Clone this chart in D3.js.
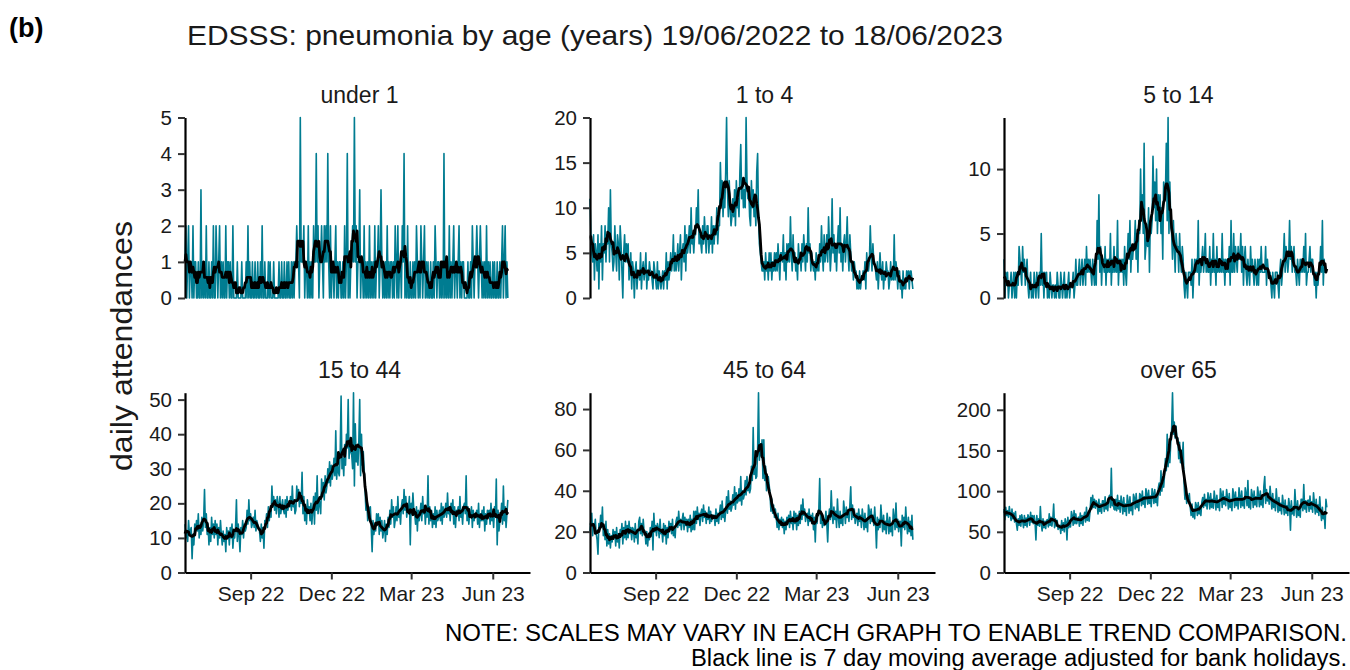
<!DOCTYPE html>
<html><head><meta charset="utf-8">
<script src="https://cdn.jsdelivr.net/npm/d3@7"></script>
<style>
body{margin:0;background:#fff;}
text{font-family:"Liberation Sans",Arial,Helvetica,sans-serif;}
</style>
</head><body>
<svg id="chart" width="1350" height="670"></svg>
<script>
// ---- data: daily attendances from 19/06/2022 (365 days) ----
const startDate = "2022-06-19";
const panelTitles = ["under 1","1 to 4","5 to 14","15 to 44","45 to 64","over 65"];

const under1 = [
1,2,0,1,2,0,1, 1,0,2,0,1,1,0, 0,1,0,0,3,0,1, 0,1,0,2,0,0,1, 0,0,1,0,2,0,0, 2,1,0,1,2,0,1, 0,1,0,0,2,0,1,
1,0,1,0,0,2,0, 0,0,0,1,0,0,0, 0,1,0,0,0,0,1, 0,2,0,1,0,0,1, 0,0,1,0,0,1,0, 0,1,0,2,0,0,1, 0,0,0,1,0,1,0,
0,0,1,0,0,0,0, 0,1,0,0,1,0,0, 1,0,0,1,0,1,0, 0,1,0,1,0,1,1, 2,1,1,0,5,1,1, 1,2,0,1,1,0,2, 0,1,0,1,0,2,1,
1,4,1,2,0,1,1, 2,1,0,2,1,2,1, 4,1,0,2,0,1,1, 0,1,2,0,1,0,1, 1,0,0,1,0,2,0, 1,4,0,1,0,1,1, 2,1,5,1,2,0,1,
1,3,0,1,1,0,2, 0,1,0,1,0,2,0, 1,0,1,0,2,0,1, 1,2,0,1,3,1,0, 1,0,1,0,2,0,1, 0,1,1,0,1,0,2, 1,0,2,0,1,1,0,
2,1,4,0,1,0,2, 0,0,1,0,0,1,0, 1,0,2,1,0,1,0, 2,1,0,1,2,0,1, 0,1,0,0,1,0,0, 1,0,2,1,0,1,1, 0,1,0,1,0,4,0,
1,0,1,0,2,0,1, 0,1,2,0,1,1,0, 1,2,0,1,0,1,1, 0,0,0,0,1,0,0, 1,0,2,1,0,1,1, 2,1,0,1,2,1,0, 1,0,1,0,2,0,1,
0,1,0,0,1,0,1, 0,0,1,0,0,1,0, 1,2,0,1,2,0,1, 0];

const age1to4 = [
11,7,5,4,7,2,6, 5,3,7,1,6,4,8, 2,6,5,8,4,7,6, 10,4,12,6,5,3,4, 8,5,3,7,6,2,8, 6,3,0,5,7,4,6, 4,6,2,3,5,1,4,
3,0,3,4,1,3,3, 2,5,1,3,4,2,3, 5,1,3,2,4,3,3, 2,1,4,3,2,1,4, 1,3,2,1,2,3,1, 3,2,5,1,4,2,3, 5,3,4,7,3,5,3,
4,6,3,5,7,2,5, 6,4,8,3,7,5,6, 8,5,10,6,7,5,7, 7,10,8,12,6,7,6, 5,8,6,9,7,5,8, 8,5,7,6,9,5,8, 6,8,7,10,6,8,8,
15,11,13,9,12,10,14, 20,12,9,13,10,8,9, 11,9,12,8,13,10,11, 9,14,17,11,13,10,12, 10,20,13,11,12,9,8, 13,10,12,9,11,8,14, 16,9,6,5,4,3,3,
4,2,5,3,4,2,5, 3,5,2,4,3,5,3, 5,3,6,4,2,5,5, 4,7,3,5,2,6,4, 6,4,9,5,3,7,4, 5,3,4,2,6,4,5, 3,6,4,7,5,3,6,
4,10,5,6,3,5,4, 3,4,2,5,3,4,3, 6,4,8,5,3,7,4, 5,7,4,9,6,3,5, 11,5,7,4,6,3,6, 8,5,10,4,6,3,6, 7,4,6,9,5,3,7,
5,3,4,2,4,3,3, 1,2,1,3,1,2,2, 3,2,4,1,5,3,3, 4,8,5,3,6,4,4, 3,2,4,1,3,5,3, 2,4,1,3,2,4,3, 3,1,2,4,2,3,2,
7,2,4,3,1,3,3, 1,2,0,3,1,2,1, 3,2,3,1,3,3,2, 1];

const age5to14 = [
3,0,2,1,2,0,1, 1,2,0,1,2,0,2, 0,2,1,4,3,2,1, 4,2,3,1,2,3,1, 0,1,2,0,1,0,2, 1,0,2,1,0,2,1, 5,1,2,0,2,1,2,
0,1,0,2,1,0,1, 1,0,1,0,2,1,0, 0,2,1,0,1,2,0, 1,0,1,2,0,1,1, 1,2,0,1,3,1,1, 2,3,1,2,3,1,2, 3,1,4,2,3,2,3,
2,1,3,2,1,3,1, 6,3,8,2,4,1,3, 3,2,4,1,3,2,3, 2,5,1,3,2,4,2, 3,2,6,1,3,2,3, 2,3,1,4,2,1,3, 5,3,6,2,4,3,4,
4,6,3,5,2,6,5, 10,6,8,5,12,3,4, 5,4,7,2,6,5,6, 11,7,9,6,10,5,8, 6,8,5,7,3,9,8, 8,12,6,14,5,9,6, 5,3,6,4,2,5,4,
4,2,5,3,2,4,3, 1,0,2,1,0,2,2, 2,1,3,0,2,3,2, 3,2,6,1,3,2,3, 4,2,3,5,2,3,2, 2,4,1,3,2,5,2, 3,1,4,2,3,2,3,
2,5,2,3,1,3,2, 3,2,4,1,6,2,2, 5,2,4,3,2,4,3, 3,5,2,4,1,3,4, 2,1,3,2,1,4,2, 3,2,1,3,2,1,3, 1,3,2,4,2,2,2,
2,4,1,3,2,2,2, 1,0,2,1,0,2,2, 2,1,0,2,3,1,2, 3,5,2,4,3,2,3, 6,3,4,2,3,4,2, 2,1,3,2,1,3,2, 3,2,4,2,5,1,2,
2,3,4,2,3,3,2, 1,2,0,2,1,2,2, 4,2,6,1,3,2,2, 2];

const age15to44 = [
14,10,12,9,15,11,12, 13,4,11,8,14,12,15, 12,17,10,13,11,16,12, 15,24,13,17,11,14,8, 13,9,16,11,14,10,15, 11,14,8,13,10,15,11, 8,12,9,11,6,13,10,
12,8,13,10,14,7,11, 10,13,21,9,14,11,6, 13,11,15,10,14,12,13, 18,14,21,15,17,13,14, 16,13,18,12,15,14,13, 12,9,14,10,13,7,15, 14,17,13,19,15,18,16,
25,19,22,18,21,17,22, 20,16,22,17,19,21,18, 17,21,16,22,18,20,19, 22,18,25,19,21,17,18, 25,21,24,19,23,20,29, 17,22,15,19,14,21,18, 19,15,20,14,18,22,14,
23,18,28,17,21,20,17, 27,22,26,21,28,23,25, 30,26,32,25,31,27,29, 33,28,41,27,32,29,28, 35,51,30,33,28,37,31, 40,36,50,33,38,35,34, 30,52,25,43,32,36,31,
38,50,28,40,31,35,30, 24,18,21,15,19,17,19, 13,6,15,11,14,12,17, 14,17,11,16,12,15,10, 12,15,9,14,11,16,13, 18,14,21,16,19,13,15, 19,15,22,16,18,14,19,
21,17,24,18,22,16,19, 18,22,8,20,17,23,18, 17,14,19,12,18,15,17, 20,15,22,17,19,14,19, 16,28,14,19,15,18,13, 17,14,19,13,18,15,16, 18,15,20,14,19,16,17,
20,16,23,17,19,15,20, 17,21,14,19,13,18,17, 19,15,22,16,18,14,19, 20,17,28,15,19,14,17, 16,19,13,18,15,17,17, 18,14,20,13,17,15,18, 15,19,12,17,14,18,17,
18,14,20,15,17,13,19, 16,27,8,18,12,15,16, 20,14,25,15,19,13,17, 21];

const age45to64 = [
20,26,29,18,24,22,26, 19,16,9,24,21,28,23, 32,18,22,16,25,13,21, 14,19,12,18,15,21,17, 20,13,22,15,19,12,21, 18,24,14,22,17,25,16, 23,17,25,19,22,16,22,
21,15,24,17,20,14,25, 27,19,24,18,26,20,20, 14,20,13,19,16,22,18, 25,11,29,20,23,18,24, 22,17,26,19,21,15,24, 18,23,14,22,17,25,21, 24,19,26,18,22,17,25,
27,22,30,23,26,21,26, 29,21,27,23,26,20,26, 22,28,20,26,21,30,21, 30,24,32,26,29,23,29, 31,25,33,27,30,24,29, 26,32,24,30,25,28,28, 28,23,31,25,29,24,29,
33,26,35,27,31,25,30, 37,29,40,31,35,30,32, 38,33,42,31,39,34,35, 41,35,47,33,40,36,38, 45,38,47,40,44,39,41, 52,45,71,48,55,46,47, 60,88,55,63,57,65,46,
65,45,52,40,44,47,43, 38,30,36,29,33,27,31, 27,22,29,21,26,23,27, 22,26,19,25,21,27,24, 28,22,30,24,27,21,30, 24,29,21,28,23,30,24, 33,26,36,28,31,25,28,
29,23,31,25,28,24,29, 21,27,15,28,24,29,31, 46,24,29,22,27,23,25, 30,24,15,27,31,26,40, 29,24,32,26,30,22,36, 27,22,30,24,28,23,35, 30,24,32,27,29,25,33,
42,26,33,27,31,24,27, 29,23,31,25,28,22,31, 27,21,29,22,26,20,33, 30,24,31,25,28,23,32, 24,12,27,21,26,22,33, 26,20,28,21,25,19,29, 25,19,27,20,24,18,31,
27,21,34,22,26,20,25, 25,13,28,22,27,21,32, 24,19,27,20,25,18,28, 16];

const over65 = [
78,65,80,70,76,68,81, 72,64,78,66,73,62,75, 60,52,66,58,70,57,71, 64,55,70,58,67,56,71, 68,58,74,62,70,60,70, 62,40,70,58,66,57,81, 60,51,66,55,63,54,64,
65,56,72,58,68,57,65, 84,55,66,57,64,53,55, 58,48,64,52,61,50,66, 62,40,68,55,64,56,75, 70,58,76,60,72,60,66, 68,57,73,60,70,58,69, 74,62,80,64,72,63,75,
92,78,95,80,90,79,88, 85,72,90,75,84,73,88, 88,75,93,78,86,76,92, 95,80,128,82,90,78,77, 90,76,95,78,88,74,94, 86,72,92,75,84,70,95, 87,73,93,76,85,71,96,
92,78,97,80,89,76,97, 95,82,100,84,93,80,103, 96,84,101,85,94,81,103, 97,85,102,86,95,82,104, 110,95,125,100,115,105,120, 140,125,170,130,155,135,160, 175,221,170,185,165,180,164,
165,140,160,135,150,140,160, 110,90,100,85,95,88,97, 80,70,84,68,78,66,86, 82,70,86,72,80,70,86, 92,80,96,82,90,78,98, 92,78,97,80,90,79,100, 90,77,95,80,88,76,103,
96,80,100,84,93,82,102, 92,78,97,80,90,76,103, 95,80,99,82,92,78,104, 94,80,100,82,91,79,104, 97,82,113,80,92,78,102, 95,80,100,83,93,81,105, 95,81,100,83,92,80,106,
118,85,102,88,96,84,106, 92,78,97,80,90,76,103, 87,74,92,76,85,72,95, 84,71,89,73,82,70,91, 82,52,88,72,80,70,102, 82,68,88,70,80,68,90, 90,76,108,78,88,74,88,
89,75,94,78,87,74,98, 85,72,90,74,83,70,93, 76,64,80,66,74,54,90, 80];

const yTickValues = [[0,1,2,3,4,5],[0,5,10,15,20],[0,5,10],[0,10,20,30,40,50],[0,20,40,60,80],[0,50,100,150,200]];
const xTickDates = ["2022-09-01","2022-12-01","2023-03-01","2023-06-01"];
const xTickLabels = ["Sep 22","Dec 22","Mar 23","Jun 23"];
const xDomainEnd = "2023-07-13";

const chartTitle = "EDSSS: pneumonia by age (years) 19/06/2022 to 18/06/2023";
const yAxisLabel = "daily attendances";
const noteLines = ["NOTE: SCALES MAY VARY IN EACH GRAPH TO ENABLE TREND COMPARISON.",
                   "Black line is 7 day moving average adjusted for bank holidays."];
const series = [under1, age1to4, age5to14, age15to44, age45to64, over65];

// ---- drawing ----
const svg = d3.select("#chart");
const parse = d3.utcParse("%Y-%m-%d");
const t0 = parse(startDate);
const teal = "#007C91";

const lefts = [185, 590, 1004];
const panelW = 345;
const rows = [{top:117.5, bottom:298, xaxis:false},{top:392.7, bottom:572.5, xaxis:true}];

function movingAvg(arr){
  return arr.map((v,i)=>{
    const w = arr.slice(Math.max(0,i-3), Math.min(arr.length,i+4));
    return d3.mean(w);
  });
}

series.forEach((vals, p) => {
  const col = p % 3, row = rows[Math.floor(p/3)];
  const left = lefts[col];
  const x = d3.scaleUtc().domain([t0, parse(xDomainEnd)]).range([left, left+panelW]);
  const y = d3.scaleLinear().domain([0, d3.max(vals)]).range([row.bottom, row.top]);
  const dates = vals.map((v,i)=>d3.utcDay.offset(t0,i));
  const g = svg.append("g");

  const line = d3.line().x((d,i)=>x(dates[i])).y(d=>y(d));
  g.append("path").datum(vals).attr("d", line)
    .attr("fill","none").attr("stroke",teal).attr("stroke-width",1.6).attr("stroke-linejoin","round");
  g.append("path").datum(movingAvg(vals)).attr("d", line)
    .attr("fill","none").attr("stroke","#000").attr("stroke-width",2.8).attr("stroke-linejoin","round");

  // y axis
  const ya = g.append("g").attr("transform",`translate(${left},0)`)
    .call(d3.axisLeft(y).tickValues(yTickValues[p]).tickFormat(d3.format("d"))
      .tickSize(7).tickPadding(6).tickSizeOuter(0));
  ya.select(".domain").attr("stroke","#000").attr("stroke-width",2.2);
  ya.selectAll(".tick line").attr("stroke","#333").attr("stroke-width",2);
  ya.selectAll(".tick text").attr("font-size",20.5).attr("fill","#1a1a1a")
    .attr("font-family","'Liberation Sans',Arial,sans-serif");

  if (row.xaxis) {
    const xa = g.append("g").attr("transform",`translate(0,${row.bottom})`)
      .call(d3.axisBottom(x).tickValues(xTickDates.map(parse))
        .tickFormat((d,i)=>xTickLabels[i]).tickSize(7).tickPadding(7).tickSizeOuter(0));
    xa.select(".domain").attr("stroke","#000").attr("stroke-width",2.2);
    xa.selectAll(".tick line").attr("stroke","#333").attr("stroke-width",2);
    xa.selectAll(".tick text").attr("font-size",21).attr("fill","#1a1a1a")
      .attr("font-family","'Liberation Sans',Arial,sans-serif");
  }

  svg.append("text").attr("x", left + panelW/2 + 2).attr("y", row.top - 15)
    .attr("text-anchor","middle").attr("font-size",23).attr("fill","#1a1a1a")
    .text(panelTitles[p]);
});

svg.append("text").attr("x",9).attr("y",37).attr("font-size",27).attr("font-weight","bold")
  .attr("fill","#000").text("(b)");
svg.append("text").attr("x",187).attr("y",45).attr("font-size",28)
  .attr("textLength",816).attr("lengthAdjust","spacingAndGlyphs")
  .attr("fill","#1a1a1a").text(chartTitle);
svg.append("text").attr("transform","translate(132,346) rotate(-90)")
  .attr("text-anchor","middle").attr("font-size",29)
  .attr("textLength",250).attr("lengthAdjust","spacingAndGlyphs")
  .attr("fill","#1a1a1a").text(yAxisLabel);
svg.append("text").attr("x",445).attr("y",641).attr("font-size",23)
  .attr("textLength",902).attr("lengthAdjust","spacingAndGlyphs")
  .attr("fill","#000").text(noteLines[0]);
svg.append("text").attr("x",691).attr("y",666).attr("font-size",23)
  .attr("textLength",656).attr("lengthAdjust","spacingAndGlyphs")
  .attr("fill","#000").text(noteLines[1]);
</script>
</body></html>
